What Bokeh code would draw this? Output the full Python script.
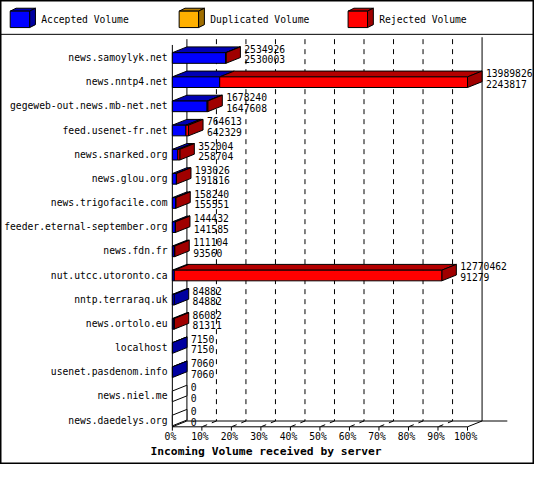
from bokeh.plotting import figure
from bokeh.models import ColumnDataSource, Range1d
from bokeh.core.properties import value
from bokeh.embed import file_html
from bokeh.resources import INLINE

# ---------------- data ----------------
servers = [
    "news.samoylyk.net", "news.nntp4.net", "gegeweb-out.news.mb-net.net",
    "feed.usenet-fr.net", "news.snarked.org", "news.glou.org",
    "news.trigofacile.com", "feeder.eternal-september.org", "news.fdn.fr",
    "nut.utcc.utoronto.ca", "nntp.terraraq.uk", "news.ortolo.eu",
    "localhost", "usenet.pasdenom.info", "news.niel.me", "news.daedelys.org",
]
total_volume = [2534926, 13989826, 1678240, 764613, 352004, 193026, 158240,
                144432, 111104, 12770462, 84882, 86082, 7150, 7060, 0, 0]
accepted_volume = [2530003, 2243817, 1647608, 642329, 258704, 191816, 155551,
                   141585, 93560, 91279, 84882, 81311, 7150, 7060, 0, 0]
duplicated_volume = [0, 0, 0, 0, 0, 0, 0, 0, 0, 0, 0, 0, 0, 0, 0, 0]
series_names = ["Accepted Volume", "Duplicated Volume", "Rejected Volume"]
tick_values = [0, 10, 20, 30, 40, 50, 60, 70, 80, 90, 100]
tick_labels = ["0%", "10%", "20%", "30%", "40%", "50%", "60%", "70%", "80%", "90%", "100%"]
x_title = "Incoming Volume received by server"

# ---------------- styles / layout ----------------
FRONT = ["#0000ff", "#ffb000", "#ff0000"]
TOP = ["#0000b4", "#b47c00", "#b40000"]
SIDE = ["#0000a0", "#a06e00", "#a00000"]
FONT = value("DejaVu Sans Mono")
FS = "9.7px"

W, H = 534, 464
REF_W, REF_H = 550, 480
PXX, PXY = 3.04, 25.0       # reference px per percent / per row
X0, Y0 = 177.0, 59.0        # reference px of 0% / first row centre


def hx(px):
    return (px - X0) / PXX


def hy(py):
    return (py - Y0) / PXY


def dxp(px):
    return px / PXX


def dyp(py):
    return py / PXY


DX, DY = dxp(15), dyp(-6)
BAR_T, BAR_B = dyp(-5), dyp(6)

p = figure(width=W, height=H,
           x_range=Range1d(hx(0), hx(REF_W)), y_range=Range1d(hy(REF_H), hy(0)),
           output_backend="svg", toolbar_location=None,
           x_axis_type=None, y_axis_type=None, min_border=0,
           background_fill_color="white", border_fill_color="white",
           outline_line_color="black", outline_line_width=2)

# ---------------- legend ----------------
p.segment(x0=[hx(0)], y0=[hy(35)], x1=[hx(REF_W)], y1=[hy(35)], line_color="black", line_width=1)
leg_left = [10, 184, 358]
for k, name in enumerate(series_names):
    l, r, t, b = hx(leg_left[k]), hx(leg_left[k] + 20), hy(11), hy(28)
    ddx, ddy = dxp(6), dyp(-3)
    p.patches(xs=[[l, r, r + ddx, l + ddx], [r, r + ddx, r + ddx, r]],
              ys=[[t, t, t + ddy, t + ddy], [t, t + ddy, b + ddy, b]],
              fill_color=[TOP[k], SIDE[k]], line_color="black", line_width=1)
    p.quad(left=[l], right=[r], top=[t], bottom=[b], fill_color=FRONT[k],
           line_color="black", line_width=1)
    p.text(x=[hx(leg_left[k] + 32)], y=[hy(20)], text=[name], text_font=FONT,
           text_font_size=FS, text_baseline="middle", text_align="left", text_color="black")

# ---------------- walls / floor / grid ----------------
y_top_back, y_floor_back, y_floor_front = hy(40), hy(435), hy(441)
wall_x0 = [0, DX, 100 + DX, 0, DX, 0, 100]
wall_y0 = [hy(46), y_top_back, hy(38), y_floor_front, y_floor_back, y_floor_front, y_floor_front]
wall_x1 = [0, DX, 100 + DX, 100, hx(522), DX, 100 + DX]
wall_y1 = [y_floor_front, y_floor_back, y_floor_back, y_floor_front, y_floor_back, y_floor_back, y_floor_back]
p.segment(x0=wall_x0, y0=wall_y0, x1=wall_x1, y1=wall_y1, line_color="black", line_width=1)

inner = [v for v in tick_values if 0 < v < 100]
p.segment(x0=[v + DX for v in inner], y0=[y_top_back] * len(inner),
          x1=[v + DX for v in inner], y1=[y_floor_back] * len(inner),
          line_color="black", line_width=1, line_dash="5 5")
p.segment(x0=[v + DX for v in inner], y0=[y_floor_back] * len(inner),
          x1=inner, y1=[y_floor_front] * len(inner),
          line_color="black", line_width=1, line_dash="5 5")
p.segment(x0=tick_values, y0=[y_floor_front] * len(tick_values),
          x1=tick_values, y1=[hy(445)] * len(tick_values), line_color="black", line_width=1)

# ---------------- bars ----------------
max_total = max(total_volume)
fq = dict(left=[], right=[], top=[], bottom=[], color=[])
pt = dict(xs=[], ys=[], color=[])
for i in range(len(servers)):
    acc = accepted_volume[i]
    dup = duplicated_volume[i]
    rej = total_volume[i] - acc - dup
    segs = [acc, dup, rej]
    t, b = i + BAR_T, i + BAR_B
    start = 0.0
    last = None
    for k, v in enumerate(segs):
        if v <= 0:
            continue
        w = v / max_total * 100
        l, r = start, start + w
        fq["left"].append(l); fq["right"].append(r)
        fq["top"].append(t); fq["bottom"].append(b)
        fq["color"].append(FRONT[k])
        pt["xs"].append([l, r, r + DX, l + DX])
        pt["ys"].append([t, t, t + DY, t + DY])
        pt["color"].append(TOP[k])
        start = r
        last = k
    end = total_volume[i] / max_total * 100
    pt["xs"].append([end, end + DX, end + DX, end])
    pt["ys"].append([t, t + DY, b + DY, b])
    pt["color"].append(SIDE[last] if last is not None else "white")

p.patches(xs="xs", ys="ys", fill_color="color", line_color="black", line_width=1,
          source=ColumnDataSource(pt))
p.quad(left="left", right="right", top="top", bottom="bottom", fill_color="color",
       line_color="black", line_width=1, source=ColumnDataSource(fq))

# ---------------- texts ----------------
rows = list(range(len(servers)))
lab_x = [v / max_total * 100 + DX + dxp(4) for v in total_volume]
p.text(x=lab_x, y=[i + dyp(-9) for i in rows], text=[str(v) for v in total_volume],
       text_font=FONT, text_font_size=FS, text_baseline="middle", text_align="left", text_color="black")
p.text(x=lab_x, y=[i + dyp(2) for i in rows], text=[str(v) for v in accepted_volume],
       text_font=FONT, text_font_size=FS, text_baseline="middle", text_align="left", text_color="black")
p.text(x=[hx(172)] * len(servers), y=rows, text=servers, text_font=FONT, text_font_size=FS,
       text_baseline="middle", text_align="right", text_color="black")
p.text(x=[v - dxp(2) for v in tick_values], y=[hy(451)] * len(tick_values), text=tick_labels,
       text_font=FONT, text_font_size=FS, text_baseline="middle", text_align="center", text_color="black")
p.text(x=[hx(273.5)], y=[hy(466.5)], text=[x_title], text_font=FONT, text_font_size="11.3px",
       text_font_style="bold", text_baseline="middle", text_align="center", text_color="black")

open("out.html", "w").write(file_html(p, INLINE))
